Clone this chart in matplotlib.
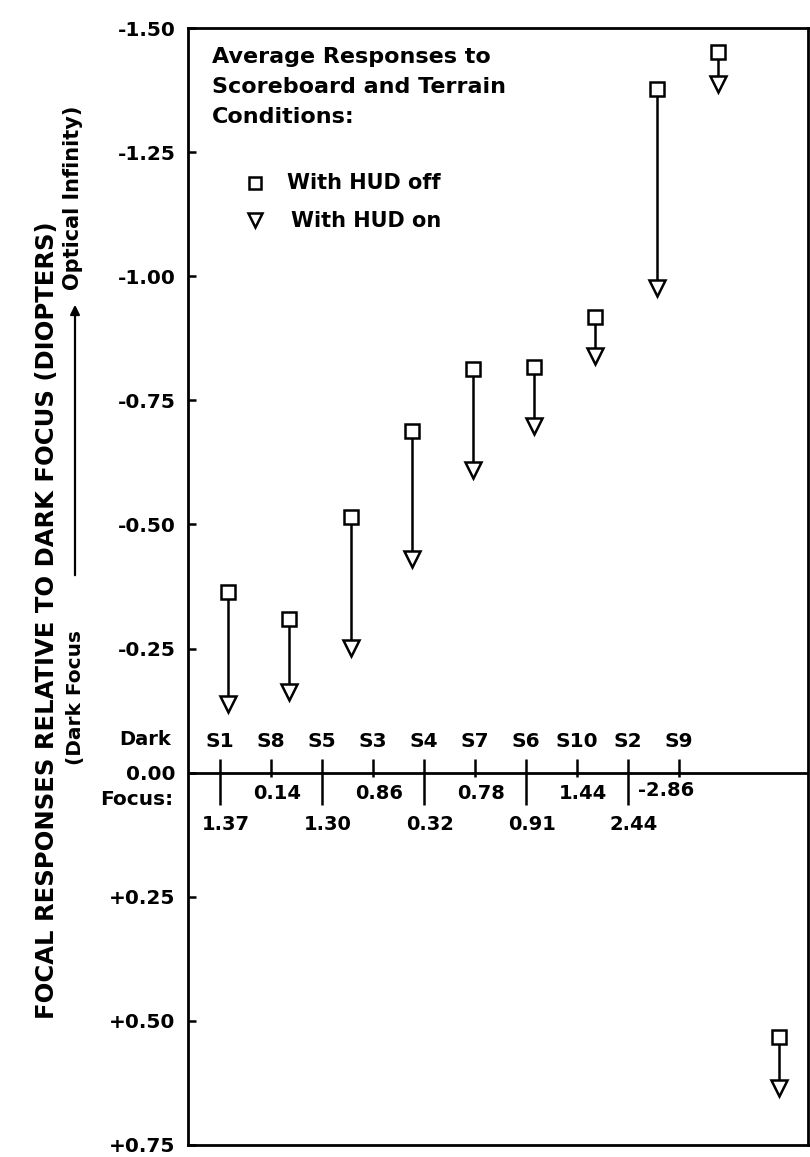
import matplotlib
matplotlib.use("Agg")
import matplotlib.pyplot as plt
import numpy as np

# ---- data ----
subjects = ["S1", "S8", "S5", "S3", "S4", "S7", "S6", "S10", "S2", "S9"]
dark_focus = ["1.37", "0.14", "1.30", "0.86", "0.32", "0.78", "0.91", "1.44", "2.44", "-2.86"]
hud_off = [-0.364, -0.31, -0.516, -0.688, -0.814, -0.818, -0.917, -1.377, -1.451, 0.532]
hud_on = [-0.138, -0.162, -0.251, -0.431, -0.609, -0.698, -0.840, -0.976, -1.387, 0.636]
y_ticks = [-1.50, -1.25, -1.00, -0.75, -0.50, -0.25, 0.00, 0.25, 0.50, 0.75]
y_tick_labels = ["-1.50", "-1.25", "-1.00", "-0.75", "-0.50", "-0.25", "0.00",
                 "+0.25", "+0.50", "+0.75"]
legend_title = "Average Responses to\nScoreboard and Terrain\nConditions:"
series_names = ["With HUD off", "With HUD on"]

FONT = "DejaVu Sans"
plt.rcParams["font.family"] = [FONT]
plt.rcParams["font.weight"] = "bold"

W, H = 810, 1157
fig = plt.figure(figsize=(W / 100, H / 100), dpi=100)

ax_l, ax_r, ax_t, ax_b = 188, 808, 28, 1145
ax = fig.add_axes([ax_l / W, 1 - ax_b / H, (ax_r - ax_l) / W, (ax_b - ax_t) / H])

n = len(subjects)
x = np.arange(n)
ax.set_xlim(-0.654, 9.47)
ax.set_ylim(0.75, -1.50)

# frame
for s in ax.spines.values():
    s.set_linewidth(2.0)
ax.set_xticks([])
ax.set_yticks(y_ticks)
ax.set_yticklabels(y_tick_labels, fontsize=14.5, fontweight="bold")
ax.tick_params(axis="y", direction="in", length=6, width=1.8, pad=9)

# zero line
ax.axhline(0, color="black", lw=2.0, zorder=2)

# subject ticks/labels along the zero line (spaced more tightly than the data)
lab_x = -0.13 + 0.832 * x
for i in range(n):
    long_tick = (i % 2 == 0) and i != 9
    bottom = 0.065 if long_tick else 0.008
    ax.vlines(lab_x[i], -0.027, bottom, color="black", lw=1.8, zorder=2)
    ax.text(lab_x[i], -0.062, subjects[i], ha="center", va="center",
            fontsize=14.5, fontweight="bold")
    if i == 9:
        ax.text(lab_x[i] - 0.2, 0.035, dark_focus[i], ha="center", va="center",
                fontsize=14, fontweight="bold")
    elif long_tick:
        ax.text(lab_x[i] + 0.1, 0.105, dark_focus[i], ha="center", va="center",
                fontsize=14, fontweight="bold")
    else:
        ax.text(lab_x[i] + 0.1, 0.042, dark_focus[i], ha="center", va="center",
                fontsize=14, fontweight="bold")

# data: connecting arrows off -> on
ax.vlines(x, hud_off, hud_on, color="black", lw=1.8, zorder=3)
ax.plot(x, hud_off, linestyle="none", marker="s", markersize=10.5,
        markerfacecolor="white", markeredgecolor="black", markeredgewidth=1.8,
        zorder=4, label=series_names[0])
ax.plot(x, hud_on, linestyle="none", marker="v", markersize=12,
        markerfacecolor="white", markeredgecolor="black", markeredgewidth=1.8,
        zorder=4, label=series_names[1])

# legend (manual)
fig.text(212 / W, 1 - 47 / H, legend_title, ha="left", va="top",
         fontsize=16, fontweight="bold", linespacing=1.62)
ax.plot([0.108], [(ax_b - 183) / (ax_b - ax_t)], transform=ax.transAxes,
        marker="s", markersize=9, markerfacecolor="white",
        markeredgecolor="black", markeredgewidth=1.8, clip_on=False)
ax.plot([0.108], [(ax_b - 220) / (ax_b - ax_t)], transform=ax.transAxes,
        marker="v", markersize=10, markerfacecolor="white",
        markeredgecolor="black", markeredgewidth=1.8, clip_on=False)
fig.text(287 / W, 1 - 183 / H, series_names[0], ha="left", va="center",
         fontsize=15, fontweight="bold")
fig.text(291 / W, 1 - 221 / H, series_names[1], ha="left", va="center",
         fontsize=15, fontweight="bold")

# "Dark" / "Focus:" around 0.00
ytr = ax.get_yaxis_transform()
ax.text((145 - ax_l) / (ax_r - ax_l), -0.067, "Dark", transform=ytr,
        ha="center", va="center", fontsize=14, fontweight="bold")
ax.text((137 - ax_l) / (ax_r - ax_l), 0.055, "Focus:", transform=ytr,
        ha="center", va="center", fontsize=14.5, fontweight="bold")

# y-axis titles
fig.text(47 / W, 1 - 620 / H, "FOCAL RESPONSES RELATIVE TO DARK FOCUS (DIOPTERS)",
         rotation=90, ha="center", va="center", fontsize=17.5, fontweight="bold")
fig.text(75 / W, 1 - 765 / H, "(Dark Focus", rotation=90, ha="center",
         va="bottom", fontsize=14.5, fontweight="bold")
fig.text(73 / W, 1 - 290 / H, "Optical Infinity)", rotation=90, ha="center",
         va="bottom", fontsize=15, fontweight="bold")
fig.add_artist(matplotlib.patches.FancyArrowPatch(
    (75 / W, 1 - 578 / H), (75 / W, 1 - 302 / H), transform=fig.transFigure,
    arrowstyle="-|>", mutation_scale=14, lw=1.6, color="black"))

fig.savefig("out.png", dpi=100, facecolor="white")
